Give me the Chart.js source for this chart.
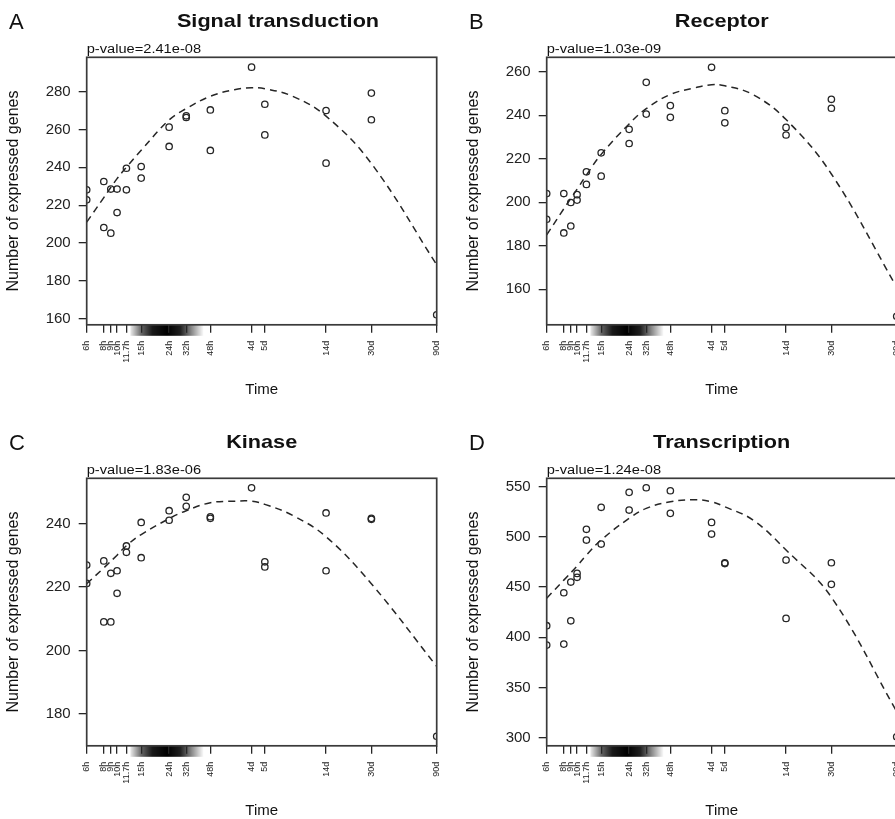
<!DOCTYPE html>
<html>
<head>
<meta charset="utf-8">
<script src="https://cdn.jsdelivr.net/npm/chart.js@4.4.1/dist/chart.umd.min.js"></script>
<style>
  html, body { margin: 0; padding: 0; background: #fff; }
  body { width: 895px; height: 819px; overflow: hidden; position: relative; }
  canvas { position: absolute; }
</style>
</head>
<body>
<canvas id="panel-a" width="460" height="420" style="left:0px;top:0px"></canvas>
<canvas id="panel-b" width="460" height="420" style="left:460px;top:0px"></canvas>
<canvas id="panel-c" width="460" height="420" style="left:0px;top:421px"></canvas>
<canvas id="panel-d" width="460" height="420" style="left:460px;top:421px"></canvas>
<script>
// ---- x axis: time after treatment, in hours (log scale) ----
const timeTicks = [6, 8, 9, 10, 11.7, 15, 24, 32, 48, 96, 120, 336, 720, 2160];
const timeLabels = ["6h", "8h", "9h", "10h", "11.7h", "15h", "24h", "32h", "48h", "4d", "5d", "14d", "30d", "90d"];
// shaded band under the axis
const bandFrom = 12.5;
const bandTo = 43;

const panelLetters = ["A", "B", "C", "D"];
const panelTitles = ["Signal transduction", "Receptor", "Kinase", "Transcription"];
const pValues = ["p-value=2.41e-08", "p-value=1.03e-09", "p-value=1.83e-06", "p-value=1.24e-08"];

// ---- samples (x = hours) ----
const sampleTimes = [6, 6, 8, 8, 9, 9, 10, 10, 11.7, 11.7, 15, 15, 24, 24, 32, 32, 48, 48, 96, 120, 120, 336, 336, 720, 720, 2160];
const sampleTimesD = [6, 6, 8, 8, 9, 9, 10, 10, 11.7, 11.7, 15, 15, 24, 24, 32, 48, 48, 96, 96, 120, 120, 336, 336, 720, 720, 2160];

const signalCounts = [228.1, 222.8, 232.5, 208.2, 228.5, 205.2, 228.5, 216.1, 239.5, 228.1, 240.4, 234.3, 261.2, 251.0, 267.2, 266.3, 270.3, 248.9, 292.9, 273.3, 257.1, 270.0, 242.2, 279.2, 265.1, 162.1];
const receptorCounts = [204.0, 192.2, 204.0, 185.9, 199.9, 189.1, 203.5, 201.0, 214.0, 208.2, 222.7, 212.0, 233.5, 227.0, 255.1, 240.5, 244.4, 239.0, 262.0, 242.1, 236.5, 234.4, 230.9, 247.3, 243.2, 147.6];
const kinaseCounts = [226.9, 221.1, 228.2, 209.0, 224.3, 209.0, 225.1, 218.0, 232.9, 230.9, 240.3, 229.2, 244.0, 241.0, 248.2, 245.4, 242.1, 241.6, 251.2, 227.9, 226.3, 243.3, 225.1, 241.6, 241.3, 173.0];
const transcriptionCounts = [411.6, 392.3, 444.4, 393.3, 455.1, 416.5, 463.7, 459.8, 507.6, 496.9, 529.5, 492.9, 544.4, 526.8, 549.0, 546.0, 523.5, 514.5, 502.9, 474.3, 473.5, 477.0, 418.9, 474.3, 452.8, 301.0];

// ---- fitted curve ----
const fitTimes = [6, 8, 10, 11.7, 15, 24, 32, 48, 72, 96, 120, 192, 336, 720, 2160];
const signalFit = [211, 224, 234, 240, 249, 265, 271, 277.5, 281, 282, 281.5, 277.5, 267, 242, 188.5];
const receptorFit = [185, 197, 206, 212.5, 222, 236, 243, 249.5, 252.5, 254, 253.5, 249.5, 238, 213, 161];
const kinaseFit = [221, 226, 230, 233, 236.5, 241.5, 244, 246.5, 247, 247, 246, 242.5, 235.8, 221, 195];
const transcriptionFit = [439, 457, 471, 482, 497, 518.5, 528.5, 535, 537, 535, 530, 517, 487, 440, 326];

// ---- y tick labels ----
const signalTicks = [160, 180, 200, 220, 240, 260, 280];
const receptorTicks = [160, 180, 200, 220, 240, 260];
const kinaseTicks = [180, 200, 220, 240];
const transcriptionTicks = [300, 350, 400, 450, 500, 550];

const FONT = '"Liberation Sans", Arial, Helvetica, sans-serif';
const INK = "#262626";

// буквы, заголовок и p-value над рамкой
const panelText = {
  id: "panelText",
  afterDraw(chart, args, opts) {
    const { ctx, chartArea } = chart;
    ctx.save();
    ctx.fillStyle = "#111";
    ctx.textBaseline = "alphabetic";

    ctx.font = "22px " + FONT;
    ctx.textAlign = "left";
    ctx.fillText(opts.letter, 9, 29);

    ctx.font = "bold 19px " + FONT;
    ctx.textAlign = "center";
    const cx = opts.titleX ?? (chartArea.left + chartArea.right) / 2;
    ctx.save();
    ctx.translate(cx, 27);
    ctx.scale(1.14, 1);
    ctx.fillText(opts.title, 0, 0);
    ctx.restore();

    ctx.font = "12px " + FONT;
    ctx.textAlign = "left";
    ctx.save();
    ctx.translate(chartArea.left, chartArea.top - 4);
    ctx.scale(1.22, 1);
    ctx.fillText(opts.pValue, 0, 0);
    ctx.restore();

    ctx.restore();
  },
};

// серая полоса под осью X
const timeBand = {
  id: "timeBand",
  beforeDraw(chart) {
    const { ctx, chartArea, scales: { x } } = chart;
    const x0 = x.getPixelForValue(bandFrom);
    const x1 = x.getPixelForValue(bandTo);
    const g = ctx.createLinearGradient(x0, 0, x1, 0);
    g.addColorStop(0, "rgba(0,0,0,0.08)");
    g.addColorStop(0.15, "rgba(0,0,0,0.6)");
    g.addColorStop(0.3, "rgba(0,0,0,0.9)");
    g.addColorStop(0.5, "rgba(0,0,0,1)");
    g.addColorStop(0.68, "rgba(0,0,0,0.88)");
    g.addColorStop(0.82, "rgba(0,0,0,0.5)");
    g.addColorStop(1, "rgba(0,0,0,0)");
    ctx.save();
    ctx.fillStyle = g;
    ctx.fillRect(x0, chartArea.bottom, x1 - x0, 11);
    ctx.restore();
  },
};

// рамка вокруг области графика
const plotBox = {
  id: "plotBox",
  afterDatasetsDraw(chart) {
    const { ctx, chartArea: a } = chart;
    ctx.save();
    ctx.strokeStyle = "#3a3a3a";
    ctx.lineWidth = 1.7;
    ctx.strokeRect(a.left, a.top, a.right - a.left, a.bottom - a.top);
    ctx.restore();
  },
};

const panels = [
  { id: "panel-a", times: sampleTimes, counts: signalCounts, fit: signalFit, yTicks: signalTicks, yMin: 156.8, yMax: 298.1, titleX: 278 },
  { id: "panel-b", times: sampleTimes, counts: receptorCounts, fit: receptorFit, yTicks: receptorTicks, yMin: 143.7, yMax: 266.6 },
  { id: "panel-c", times: sampleTimes, counts: kinaseCounts, fit: kinaseFit, yTicks: kinaseTicks, yMin: 170.0, yMax: 254.2 },
  { id: "panel-d", times: sampleTimesD, counts: transcriptionCounts, fit: transcriptionFit, yTicks: transcriptionTicks, yMin: 292.0, yMax: 558.4 },
];

function drawPanel(p, i) {
  const canvas = document.getElementById(p.id);
  const points = p.times.map((t, k) => ({ x: t, y: p.counts[k] }));
  const curve = fitTimes.map((t, k) => ({ x: t, y: p.fit[k] }));

  const tickGrid = {
    drawOnChartArea: false,
    drawTicks: true,
    tickLength: 8,
    color: INK,
    lineWidth: 1.3,
  };

  new Chart(canvas, {
    type: "scatter",
    data: {
      datasets: [
        {
          data: points,
          pointStyle: "circle",
          pointRadius: 3.2,
          pointBorderWidth: 1.3,
          pointBorderColor: INK,
          pointBackgroundColor: "rgba(0,0,0,0)",
          clip: 0,
        },
        {
          data: curve,
          showLine: true,
          borderColor: INK,
          borderWidth: 1.5,
          borderDash: [7, 5],
          pointRadius: 0,
          tension: 0.4,
          clip: 0,
        },
      ],
    },
    options: {
      responsive: false,
      animation: false,
      events: [],
      layout: { padding: { top: 57.3, right: 23.3, left: 0, bottom: 0 } },
      plugins: {
        legend: { display: false },
        tooltip: { enabled: false },
        panelText: { letter: panelLetters[i], title: panelTitles[i], pValue: pValues[i], titleX: p.titleX },
      },
      scales: {
        x: {
          type: "logarithmic",
          min: 6,
          max: 2160,
          afterBuildTicks: (s) => { s.ticks = timeTicks.map((v) => ({ value: v })); },
          afterFit: (s) => { s.height = 95.2; },
          grid: tickGrid,
          border: { display: false },
          ticks: {
            autoSkip: false,
            minRotation: 90,
            maxRotation: 90,
            padding: 8,
            color: "#222",
            font: { size: 9, family: FONT },
            callback: (v, idx) => timeLabels[idx],
          },
          title: {
            display: true,
            text: "Time",
            color: "#111",
            font: { size: 15, family: FONT },
            padding: { top: 0, bottom: 21 },
          },
        },
        y: {
          min: p.yMin,
          max: p.yMax,
          afterBuildTicks: (s) => { s.ticks = p.yTicks.map((v) => ({ value: v })); },
          afterFit: (s) => { s.width = 86.7; },
          grid: tickGrid,
          border: { display: false },
          ticks: { padding: 8, color: "#222", font: { size: 15, family: FONT } },
          title: {
            display: true,
            text: "Number of expressed genes",
            color: "#111",
            font: { size: 16, family: FONT },
            padding: { top: 4, bottom: 0 },
          },
        },
      },
    },
    plugins: [timeBand, plotBox, panelText],
  });
}

panels.forEach(drawPanel);
</script>
</body>
</html>
